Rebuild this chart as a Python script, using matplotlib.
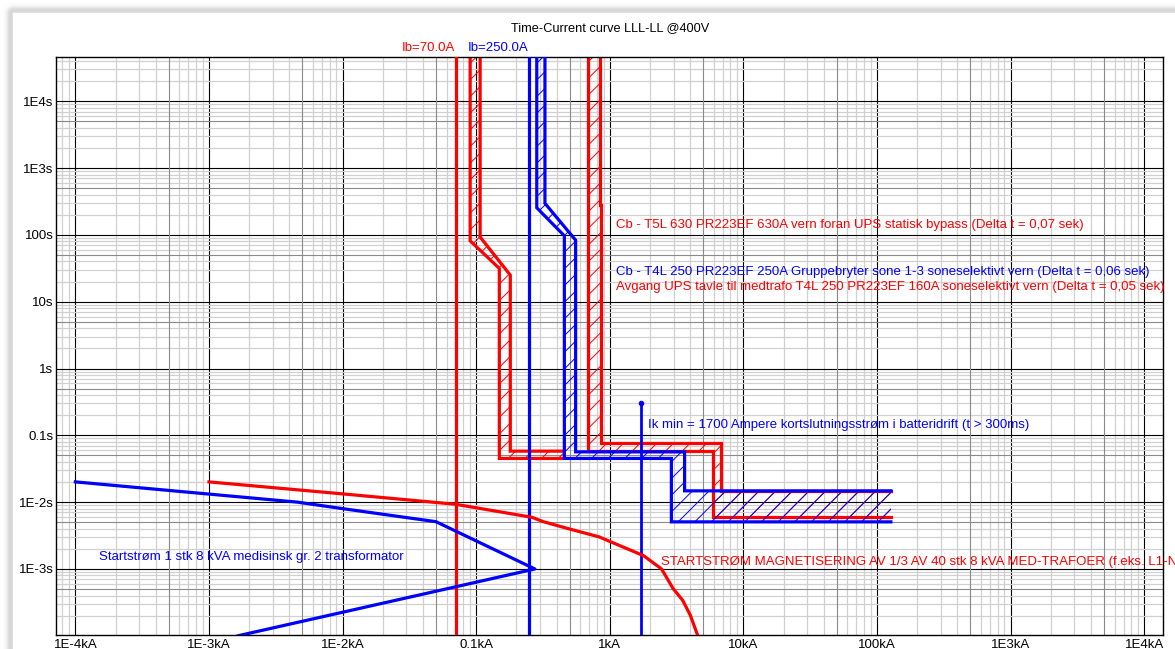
import numpy as np
import matplotlib
matplotlib.use("Agg")
import matplotlib.pyplot as plt
from matplotlib.patches import Polygon
from matplotlib.ticker import FixedLocator, LogLocator, NullFormatter
import matplotlib.transforms as mtransforms

plt.rcParams['font.family'] = ['Liberation Sans', 'DejaVu Sans']
plt.rcParams['hatch.linewidth'] = 0.7

RED = '#ff0000'
BLUE = '#0000ff'

# Axis decades and their labels
x_ticks = [1e-4, 1e-3, 1e-2, 0.1, 1, 10, 100, 1e3, 1e4]
x_tick_labels = ['1E-4kA', '1E-3kA', '1E-2kA', '0.1kA', '1kA', '10kA', '100kA', '1E3kA', '1E4kA']
y_ticks = [1e-3, 1e-2, 0.1, 1, 10, 100, 1e3, 1e4]
y_tick_labels = ['1E-3s', '1E-2s', '0.1s', '1s', '10s', '100s', '1E3s', '1E4s']

# Operating / fault currents (kA) and times (s)
ib_feeder = 0.070
ib_group = 0.250
ik_min = 1.7
ik_min_time = 0.3

T_TOP = 1e5  # curves continue above the visible range

# Avgang UPS tavle til medtrafo, T4L 250 PR223EF 160A: min / max tripping curve
feeder_min_i = [0.0901, 0.0901, 0.149, 0.149, 0.455]
feeder_min_t = [T_TOP, 81.6, 31.5, 0.0451, 0.0451]
feeder_max_i = [0.107, 0.107, 0.180, 0.180, 0.455]
feeder_max_t = [T_TOP, 93.0, 25.0, 0.058, 0.058]

# Gruppebryter, T4L 250 PR223EF 250A
group_min_i = [0.284, 0.284, 0.457, 0.457, 2.89, 2.89, 127]
group_min_t = [T_TOP, 255, 97, 0.0451, 0.0451, 0.00507, 0.00507]
group_max_i = [0.327, 0.327, 0.555, 0.555, 3.63, 3.63, 127]
group_max_t = [T_TOP, 297, 83.5, 0.0566, 0.0566, 0.01476, 0.01476]

# UPS statisk bypass, T5L 630 PR223EF 630A
bypass_min_i = [0.692, 0.692, 5.93, 5.93, 127]
bypass_min_t = [T_TOP, 0.058, 0.058, 0.00603, 0.00603]
bypass_max_i = [0.848, 0.848, 0.862, 0.862, 6.76, 6.76, 127]
bypass_max_t = [T_TOP, 279, 279, 0.0757, 0.0757, 0.01476, 0.01476]

# Inrush of one 8 kVA medical transformer
inrush_one_i = [1e-4, 1e-3, 4.6e-3, 1e-2, 0.05, 0.275, 0.00165]
inrush_one_t = [0.0201, 0.0132, 0.0100, 0.0080, 0.0051, 0.001, 1e-4]

# Magnetising inrush of 1/3 of 40 transformers
inrush_group_i = [1e-3, 1e-2, 0.07, 0.262, 0.318, 0.485, 0.832, 1.79, 2.44, 2.98, 3.51, 4.0, 4.56]
inrush_group_t = [0.0201, 0.0133, 0.0093, 0.00593, 0.0051, 0.00403, 0.00302, 0.00158,
                  0.001, 5.07e-4, 3.4e-4, 2.04e-4, 1e-4]

W, H = 1175, 649
fig = plt.figure(figsize=(W / 100, H / 100), dpi=100)

# white sheet with a soft shadow along the top and left edges
bg = fig.add_axes([0, 0, 1, 1], zorder=-10)
yy, xx = np.mgrid[0:H, 0:W]
dist = np.hypot(np.clip(13 - xx, 0, None), np.clip(13 - yy, 0, None))
shade = np.where(dist > 0, 255 - 40 * np.exp(-((dist - 3) / 4.0) ** 2), 255) / 255.0
bg.imshow(np.dstack([shade] * 3), extent=[0, 1, 0, 1], aspect='auto', origin='upper')
bg.set_axis_off()

ax = fig.add_axes([56.3 / W, 1 - 635.1 / H, (1163.3 - 56.3) / W, (635.1 - 57.2) / H])
ax.set_xscale('log')
ax.set_yscale('log')
ax.set_xlim(10 ** -4.143, 10 ** 4.143)
ax.set_ylim(10 ** -3.99, 10 ** 4.66)

ax.xaxis.set_major_locator(FixedLocator(x_ticks))
ax.yaxis.set_major_locator(FixedLocator(y_ticks))
ax.set_xticklabels(x_tick_labels)
ax.set_yticklabels(y_tick_labels)
ax.xaxis.set_minor_locator(LogLocator(base=10, subs=[2, 3, 4, 6, 7, 8, 9], numticks=50))
ax.yaxis.set_minor_locator(LogLocator(base=10, subs=[2, 3, 4, 6, 7, 8, 9], numticks=50))
ax.xaxis.set_minor_formatter(NullFormatter())
ax.yaxis.set_minor_formatter(NullFormatter())
ax.tick_params(which='both', length=0)
ax.tick_params(axis='x', pad=2.5, labelsize=9.5)
ax.tick_params(axis='y', pad=2, labelsize=9.5)

ax.set_axisbelow(True)
ax.grid(which='minor', color='#d0d0d0', lw=0.9)
ax.grid(which='major', color='#000000', lw=0.8)
for e in range(-5, 6):
    ax.axvline(5 * 10.0 ** e, color='#8a8a8a', lw=0.8, zorder=0.6)
    ax.axhline(5 * 10.0 ** e, color='#8a8a8a', lw=0.8, zorder=0.6)
for s in ax.spines.values():
    s.set_linewidth(1.0)
    s.set_color('#000000')


def draw_band(lo_i, lo_t, hi_i, hi_t, color, z):
    pts = np.column_stack([list(lo_i) + list(hi_i)[::-1], list(lo_t) + list(hi_t)[::-1]])
    ax.add_patch(Polygon(pts, closed=True, facecolor='none', edgecolor=color,
                         lw=0, hatch='//', zorder=z))
    ax.plot(lo_i, lo_t, color=color, lw=2.3, zorder=z + 0.1, solid_joinstyle='miter')
    ax.plot(hi_i, hi_t, color=color, lw=2.3, zorder=z + 0.1, solid_joinstyle='miter')


draw_band(feeder_min_i, feeder_min_t, feeder_max_i, feeder_max_t, RED, 2)
draw_band(bypass_min_i, bypass_min_t, bypass_max_i, bypass_max_t, RED, 2.2)
draw_band(group_min_i, group_min_t, group_max_i, group_max_t, BLUE, 3)

ax.axvline(ib_feeder, color=RED, lw=2.3, zorder=4)
ax.axvline(ib_group, color=BLUE, lw=2.3, zorder=4)
ax.plot([ik_min, ik_min], [ik_min_time, 1e-5], color=BLUE, lw=2.0, zorder=4)
ax.plot([ik_min], [ik_min_time], marker='o', ms=3, color=BLUE, zorder=4)

ax.plot(inrush_one_i, inrush_one_t, color=BLUE, lw=2.3, zorder=5, solid_joinstyle='round')
ax.plot(inrush_group_i, inrush_group_t, color=RED, lw=2.3, zorder=5.5, solid_joinstyle='round')

fs = 9.55
above = mtransforms.blended_transform_factory(ax.transData, ax.transAxes)
ax.text(ib_feeder * 0.985, 1.006, f'Ib={ib_feeder * 1000:.1f}A', color=RED, fontsize=fs,
        ha='right', va='bottom', transform=above, clip_on=False)
ax.text(ib_group * 0.985, 1.006, f'Ib={ib_group * 1000:.1f}A', color=BLUE, fontsize=fs,
        ha='right', va='bottom', transform=above, clip_on=False)

ax.text(1.11, 140, 'Cb - T5L 630 PR223EF 630A vern foran UPS statisk bypass (Delta t = 0,07 sek)',
        color=RED, fontsize=fs, va='center', ha='left', zorder=6)
ax.text(1.11, 28, 'Cb - T4L 250 PR223EF 250A Gruppebryter sone 1-3 soneselektivt vern (Delta t = 0,06 sek)',
        color=BLUE, fontsize=fs, va='center', ha='left', zorder=6)
ax.text(1.11, 16.4, 'Avgang UPS tavle til medtrafo T4L 250 PR223EF 160A soneselektivt vern (Delta t = 0,05 sek)',
        color=RED, fontsize=fs, va='center', ha='left', zorder=6, clip_on=False)
ax.text(1.94, 0.142, 'Ik min = 1700 Ampere kortslutningsstrøm i batteridrift (t > 300ms)',
        color=BLUE, fontsize=fs, va='center', ha='left', zorder=6)
ax.text(1.5e-4, 0.0015, 'Startstrøm 1 stk 8 kVA medisinsk gr. 2 transformator',
        color=BLUE, fontsize=fs, va='center', ha='left', zorder=6)
ax.text(2.43, 0.00129, 'STARTSTRØM MAGNETISERING AV 1/3 AV 40 stk 8 kVA MED-TRAFOER (f.eks. L1-N)',
        color=RED, fontsize=fs, va='center', ha='left', zorder=6, clip_on=False)

fig.text(610 / W, 1 - 28 / H, 'Time-Current curve LLL-LL @400V', fontsize=9.2,
         ha='center', va='center')

fig.savefig('out.png', dpi=100)
